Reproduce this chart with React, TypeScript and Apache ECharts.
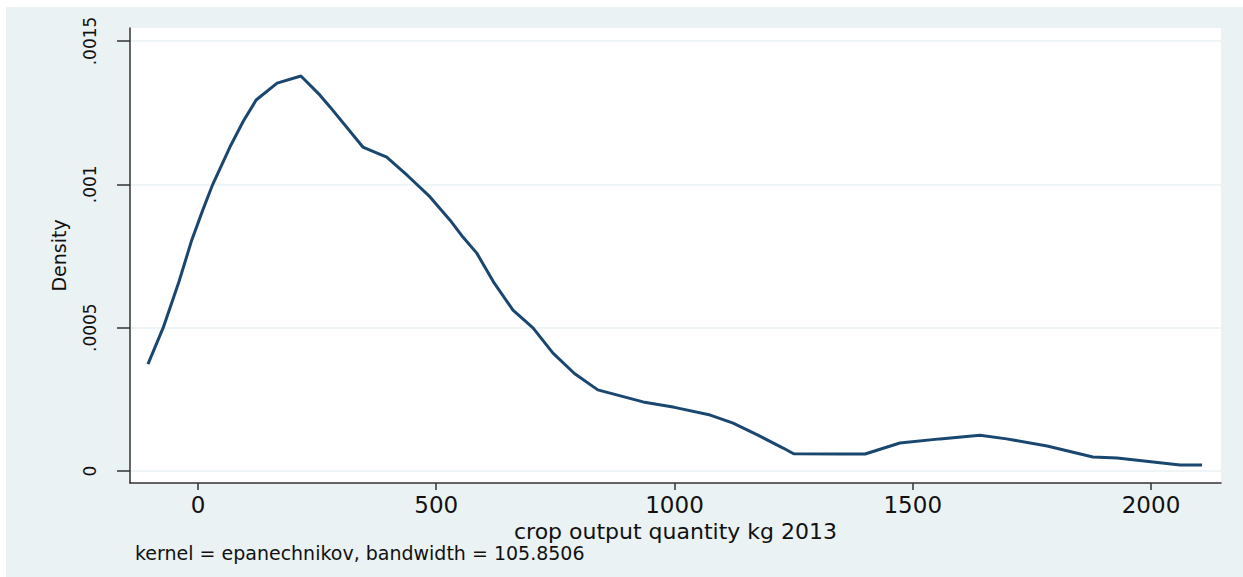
import React, { useEffect, useRef } from "react";
import * as echarts from "echarts";

const xValues = [-105, -73, -40, -13, 10, 31, 67, 95, 122, 166, 216, 256, 277, 346, 396, 440, 487, 529, 556, 585, 620, 661, 703, 745, 790, 839, 934, 1000, 1075, 1123, 1175, 1228, 1250, 1347, 1400, 1473, 1557, 1641, 1697, 1782, 1878, 1929, 2061, 2107];
const densityValues = [0.000373, 0.0005, 0.00066, 0.000806, 0.00091, 0.001, 0.00113, 0.00122, 0.001294, 0.001353, 0.001378, 0.001311, 0.00127, 0.00113, 0.001095, 0.00103, 0.000956, 0.000875, 0.000816, 0.00076, 0.00066, 0.000561, 0.000499, 0.000411, 0.00034, 0.000283, 0.000241, 0.000222, 0.000195, 0.000167, 0.000125, 0.00008, 0.00006, 0.0000593, 0.0000593, 0.0000977, 0.000112, 0.000125, 0.000112, 0.0000872, 0.0000488, 0.0000453, 0.0000209, 0.0000209];

const xTicks = [0, 500, 1000, 1500, 2000];
const xTickLabels = ["0", "500", "1000", "1500", "2000"];
const yTicks = [0, 0.0005, 0.001, 0.0015];
const yTickLabels = ["0", ".0005", ".001", ".0015"];

const xTitle = "crop output quantity kg 2013";
const yTitle = "Density";
const noteText = "kernel = epanechnikov, bandwidth = 105.8506";

function labelFor(ticks: number[], labels: string[], v: number): string {
  for (let i = 0; i < ticks.length; i++) {
    if (Math.abs(ticks[i] - v) < 1e-9) return labels[i];
  }
  return "";
}

export default function App() {
  const ref = useRef<HTMLDivElement>(null);
  useEffect(() => {
    if (!ref.current) return;
    const chart = echarts.init(ref.current, undefined, { renderer: "svg" });
    const font = "DejaVu Sans";
    chart.setOption({
      animation: false,
      backgroundColor: "#ffffff",
      graphic: [
        {
          type: "rect",
          z: -100,
          shape: { x: 6, y: 7, width: 1237, height: 570 },
          style: { fill: "#EAF2F3" },
          silent: true,
        },
        {
          type: "text",
          left: 135,
          top: 543,
          style: { text: noteText, fontFamily: font, fontSize: 19, fill: "#111111" },
        },
      ],
      grid: {
        left: 130,
        top: 28,
        right: 22,
        bottom: 94,
        show: true,
        backgroundColor: "#ffffff",
        borderWidth: 0,
        containLabel: false,
      },
      xAxis: {
        type: "value",
        min: -142.7,
        max: 2146.9,
        name: xTitle,
        nameLocation: "middle",
        nameGap: 28,
        nameTextStyle: { fontFamily: font, fontSize: 22, color: "#111111" },
        axisLine: { show: true, onZero: false, lineStyle: { color: "#333333", width: 1.5 } },
        axisTick: { show: true, length: 7, customValues: xTicks, lineStyle: { color: "#333333", width: 1.5 } },
        axisLabel: {
          customValues: xTicks,
          margin: 10,
          fontFamily: font,
          fontSize: 23,
          color: "#111111",
          formatter: (v: number) => labelFor(xTicks, xTickLabels, v),
        },
        splitLine: { show: false },
      },
      yAxis: {
        type: "value",
        min: -0.0000419,
        max: 0.0015453,
        name: yTitle,
        nameLocation: "middle",
        nameGap: 62,
        nameRotate: 90,
        nameTextStyle: { fontFamily: font, fontSize: 19, color: "#111111" },
        axisLine: { show: true, onZero: false, lineStyle: { color: "#333333", width: 1.5 } },
        axisTick: { show: true, length: 13, customValues: yTicks, lineStyle: { color: "#333333", width: 1.5 } },
        axisLabel: {
          customValues: yTicks,
          rotate: 90,
          margin: 32,
          fontFamily: font,
          fontSize: 17,
          color: "#111111",
          formatter: (v: number) => labelFor(yTicks, yTickLabels, v),
        },
        splitLine: { show: true, lineStyle: { color: "#EAF2F3", width: 1.5 } },
      },
      series: [
        {
          type: "line",
          data: xValues.map((x, i) => [x, densityValues[i]]),
          showSymbol: false,
          smooth: false,
          lineStyle: { color: "#1a476f", width: 3 },
          itemStyle: { color: "#1a476f" },
        },
      ],
    });
    return () => chart.dispose();
  }, []);
  return <div ref={ref} style={{ position: "fixed", left: 0, top: 0, width: 1243, height: 577 }} />;
}
